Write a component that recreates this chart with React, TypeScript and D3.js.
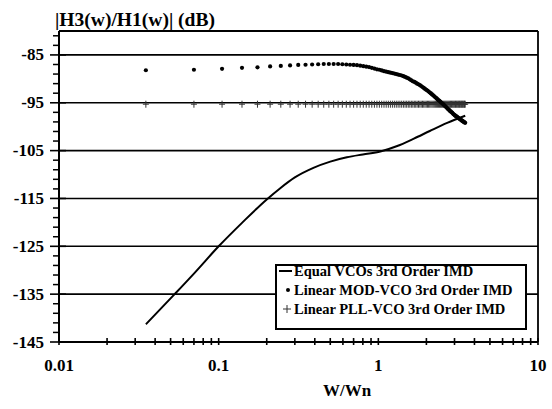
import React from 'react';
import { scaleLog, scaleLinear, line, curveMonotoneX, range } from 'd3';

const width = 552;
const height = 409;

// sample points (W/Wn) shared by the MOD-VCO and PLL-VCO series
const wSamples = [
  0.035, 0.07, 0.105, 0.14, 0.175, 0.21, 0.245, 0.28, 0.315, 0.35,
  0.385, 0.42, 0.455, 0.49, 0.525, 0.56, 0.595, 0.63, 0.665, 0.7,
  0.735, 0.77, 0.805, 0.84, 0.875, 0.91, 0.945, 0.98, 1.015, 1.05,
  1.085, 1.12, 1.155, 1.19, 1.225, 1.26, 1.295, 1.33, 1.365, 1.4,
  1.435, 1.47, 1.505, 1.54, 1.575, 1.61, 1.645, 1.68, 1.715, 1.75,
  1.785, 1.82, 1.855, 1.89, 1.925, 1.96, 1.995, 2.03, 2.065, 2.1,
  2.135, 2.17, 2.205, 2.24, 2.275, 2.31, 2.345, 2.38, 2.415, 2.45,
  2.485, 2.52, 2.555, 2.59, 2.625, 2.66, 2.695, 2.73, 2.765, 2.8,
  2.835, 2.87, 2.905, 2.94, 2.975, 3.01, 3.045, 3.08, 3.115, 3.15,
  3.185, 3.22, 3.255, 3.29, 3.325, 3.36, 3.395, 3.43, 3.465, 3.5,
];

const modVcoDb = [
  -88.2, -88.1, -87.9, -87.7, -87.6, -87.4, -87.3, -87.2, -87.1, -87.05,
  -87.0, -86.95, -86.9, -86.9, -86.9, -86.9, -86.95, -87.0, -87.05, -87.1,
  -87.15, -87.25, -87.35, -87.45, -87.55, -87.7, -87.85, -88.0, -88.1, -88.25,
  -88.4, -88.5, -88.6, -88.7, -88.8, -88.9, -89.0, -89.1, -89.2, -89.3,
  -89.45, -89.6, -89.75, -89.9, -90.1, -90.3, -90.5, -90.65, -90.8, -91.0,
  -91.15, -91.3, -91.5, -91.7, -91.9, -92.1, -92.3, -92.45, -92.65, -92.85,
  -93.05, -93.25, -93.45, -93.65, -93.85, -94.05, -94.25, -94.45, -94.6, -94.8,
  -95.0, -95.15, -95.35, -95.55, -95.75, -95.9, -96.1, -96.3, -96.45, -96.65,
  -96.8, -96.95, -97.1, -97.3, -97.45, -97.6, -97.75, -97.85, -97.95, -98.1,
  -98.2, -98.35, -98.45, -98.55, -98.7, -98.8, -98.9, -99.0, -99.1, -99.2,
];

const pllVcoDb = [
  -95.3, -95.3, -95.3, -95.3, -95.3, -95.3, -95.3, -95.3, -95.3, -95.3,
  -95.3, -95.3, -95.3, -95.3, -95.3, -95.3, -95.3, -95.3, -95.3, -95.3,
  -95.3, -95.3, -95.3, -95.3, -95.3, -95.3, -95.3, -95.3, -95.3, -95.3,
  -95.3, -95.3, -95.3, -95.3, -95.3, -95.3, -95.3, -95.3, -95.3, -95.3,
  -95.3, -95.3, -95.3, -95.3, -95.3, -95.3, -95.3, -95.3, -95.3, -95.3,
  -95.3, -95.3, -95.3, -95.3, -95.3, -95.3, -95.3, -95.3, -95.3, -95.3,
  -95.3, -95.3, -95.3, -95.3, -95.3, -95.3, -95.3, -95.3, -95.3, -95.3,
  -95.3, -95.3, -95.3, -95.3, -95.3, -95.3, -95.3, -95.3, -95.3, -95.3,
  -95.3, -95.3, -95.3, -95.3, -95.3, -95.3, -95.3, -95.3, -95.3, -95.3,
  -95.3, -95.3, -95.3, -95.3, -95.3, -95.3, -95.3, -95.3, -95.3, -95.3,
];

// equal VCOs curve, read at fewer points
const equalW = [0.035, 0.053, 0.07, 0.1, 0.14, 0.2, 0.242, 0.3, 0.392, 0.5, 0.635, 0.8, 1.03, 1.3, 1.67, 2.1, 2.7, 3.5];
const equalDb = [-141.3, -135.0, -130.7, -125.0, -120.1, -115.2, -112.9, -110.6, -108.6, -107.3, -106.4, -105.8, -105.2, -104.1, -102.5, -100.9, -99.2, -97.7];

const xTickValues = [0.01, 0.1, 1, 10];
const xTickLabels = ['0.01', '0.1', '1', '10'];
const yTickValues = [-85, -95, -105, -115, -125, -135, -145];
const legendLabels = ['Equal VCOs 3rd Order IMD', 'Linear MOD-VCO 3rd Order IMD', 'Linear PLL-VCO 3rd Order IMD'];

const txt = (size: number): React.CSSProperties => ({
  fontFamily: "'Liberation Serif', 'DejaVu Serif', serif",
  fontWeight: 'bold',
  fontSize: size,
});

export default function App() {
  const x = scaleLog().domain([0.01, 10]).range([59, 538]);
  const y = scaleLinear().domain([-145, -80]).range([342, 31]);

  const x0 = x.range()[0], x1 = x.range()[1];
  const yBottom = y.range()[0], yTop = y.range()[1];

  const minorY = range(-145, -80, 2).filter((v) => !yTickValues.includes(v));

  const eqPath = line<number>()
    .x((d, i) => x(equalW[i]))
    .y((d) => y(d))
    .curve(curveMonotoneX)(equalDb);

  const lx = 276, ly = 265, lw = 250, lh = 64;
  const rowY = [271, 290, 309];

  return (
    <svg width={width} height={height} style={{ position: 'absolute', left: 0, top: 0, background: '#fff' }}>
      {/* gridlines */}
      {yTickValues.filter((v) => v !== -145).map((v) => (
        <line key={v} x1={x0} x2={x1} y1={y(v)} y2={y(v)} stroke="#000" strokeWidth={1.6} />
      ))}
      {/* frame */}
      <line x1={x0} x2={x1} y1={yTop} y2={yTop} stroke="#000" strokeWidth={1.8} />
      <line x1={x1} x2={x1} y1={yTop} y2={yBottom} stroke="#000" strokeWidth={1.8} />
      <line x1={x0} x2={x0} y1={yTop} y2={yBottom} stroke="#000" strokeWidth={2} />
      <line x1={x0} x2={x1} y1={yBottom} y2={yBottom} stroke="#000" strokeWidth={2} />

      {/* y ticks */}
      {minorY.map((v) => (
        <line key={v} x1={x0 - 6} x2={x0} y1={y(v)} y2={y(v)} stroke="#000" strokeWidth={1.5} />
      ))}
      {yTickValues.map((v) => (
        <g key={v}>
          <line x1={x0 - 9} x2={x0 + 7} y1={y(v)} y2={y(v)} stroke="#000" strokeWidth={1.6} />
          <text x={44} y={y(v) + 5.5} textAnchor="end" style={txt(17)}>{v}</text>
        </g>
      ))}

      {/* x ticks */}
      {x.ticks().map((t) => (
        <line key={t} x1={x(t)} x2={x(t)} y1={yBottom - 4} y2={yBottom + 3} stroke="#000" strokeWidth={1.6} />
      ))}
      {xTickValues.map((t, i) => (
        <text key={t} x={x(t)} y={371} textAnchor="middle" style={txt(17)}>{xTickLabels[i]}</text>
      ))}

      {/* PLL-VCO plus markers */}
      {wSamples.map((w, i) => (
        <g key={'p' + i} stroke="#333" strokeWidth={1}>
          <line x1={x(w)} x2={x(w)} y1={y(pllVcoDb[i]) - 3.5} y2={y(pllVcoDb[i]) + 3.5} />
          <line x1={x(w) - 3} x2={x(w) + 3} y1={y(pllVcoDb[i])} y2={y(pllVcoDb[i])} />
        </g>
      ))}

      {/* MOD-VCO dots */}
      {wSamples.map((w, i) => (
        <circle key={'m' + i} cx={x(w)} cy={y(modVcoDb[i])} r={2.1} fill="#000" />
      ))}

      {/* equal VCOs line */}
      <path d={eqPath || ''} fill="none" stroke="#000" strokeWidth={2} />

      {/* titles */}
      <text x={55} y={26} style={txt(19)} textLength={160} lengthAdjust="spacingAndGlyphs">|H3(w)/H1(w)| (dB)</text>
      <text x={347} y={396} textAnchor="middle" style={txt(17)}>W/Wn</text>

      {/* legend */}
      <rect x={lx} y={ly} width={lw} height={lh} fill="#fff" stroke="#000" strokeWidth={2} />
      <line x1={279} x2={292} y1={rowY[0]} y2={rowY[0]} stroke="#000" strokeWidth={2} />
      <circle cx={288} cy={rowY[1]} r={2} fill="#000" />
      <g stroke="#333" strokeWidth={1}>
        <line x1={287} x2={287} y1={rowY[2] - 4} y2={rowY[2] + 4} />
        <line x1={283} x2={291} y1={rowY[2]} y2={rowY[2]} />
      </g>
      {legendLabels.map((s, i) => (
        <text key={s} x={294} y={rowY[i] + 5} style={txt(14.5)}>{s}</text>
      ))}
    </svg>
  );
}
